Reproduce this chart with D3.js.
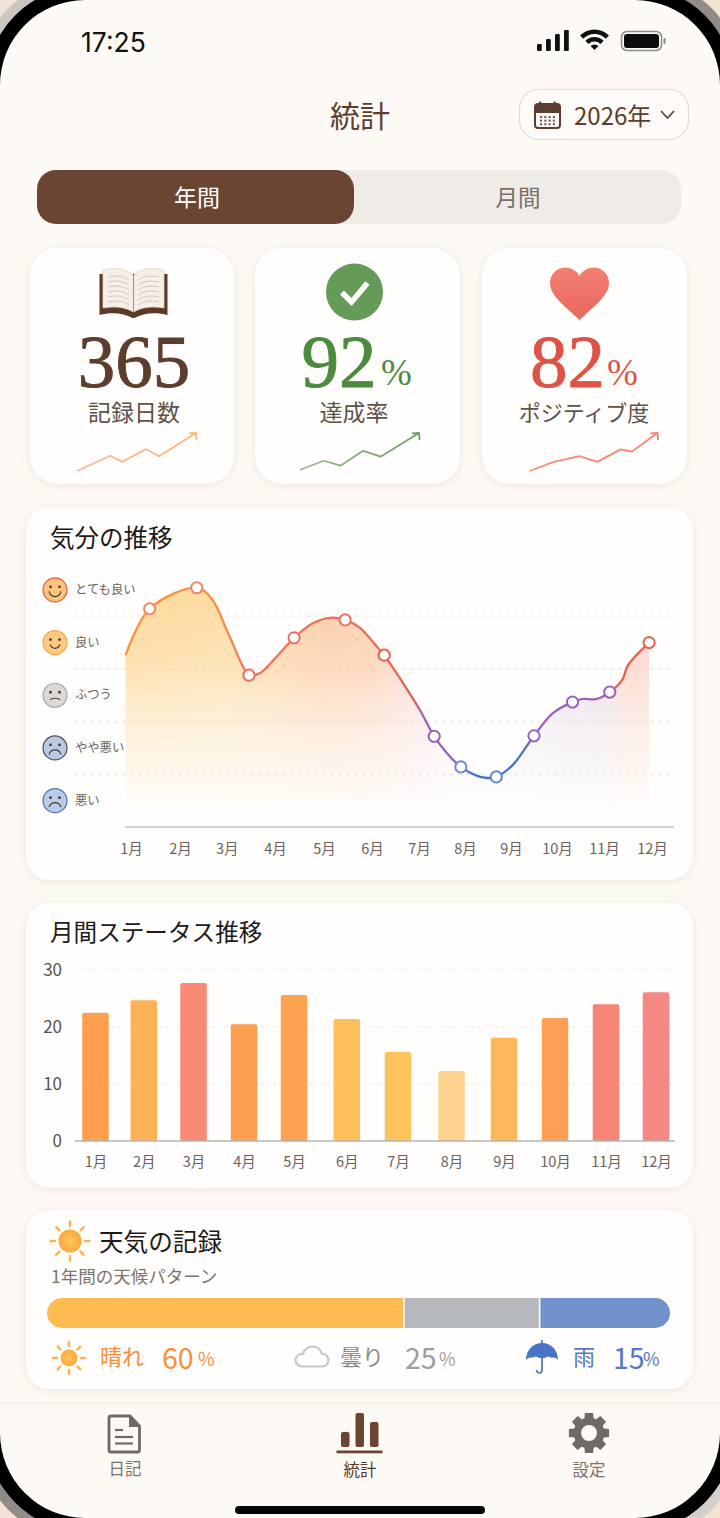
<!DOCTYPE html>
<html lang="ja">
<head>
<meta charset="utf-8">
<title>統計</title>
<script src="https://cdn.jsdelivr.net/npm/d3@7"></script>
<style>
  html, body { margin: 0; padding: 0; background: #f2e3d4; }
  svg { display: block; }
  text { font-family: "Noto Sans CJK JP", "Noto Sans", sans-serif; }
  .tick text { font-family: "Noto Sans CJK JP", "Noto Sans", sans-serif; }
</style>
</head>
<body>
<div id="chart"></div>
<script>
// 月
const months = [1, 2, 3, 4, 5, 6, 7, 8, 9, 10, 11, 12];

// サマリーカード
const statLabels = ["記録日数", "達成率", "ポジティブ度"];
const statValues = ["365", "92", "82"];
const statUnits = ["", "%", "%"];

// 小さい折れ線（カード内の幅・高さに対する%）
const sparkDaysX = [0, 28, 38, 58, 69, 100];
const sparkDaysY = [0, 40, 24, 58, 39, 100];
const sparkRateX = [0, 20, 34, 53, 68, 100];
const sparkRateY = [3, 27, 14, 53, 38, 100];
const sparkPosiX = [0, 19, 39, 53, 71, 80, 100];
const sparkPosiY = [0, 24, 39, 24, 57, 51, 100];

// 気分の推移
const moodLabels = ["とても良い", "良い", "ふつう", "やや悪い", "悪い"];
const moodLevels = [4.5, 3.5, 2.5, 1.5, 0.5];
const moodGrid = [1, 2, 3, 4];
const moodMonth = [0.89, 1.38, 2.36, 2.68, 3.0, 3.34, 3.46, 3.69, 4.03, 4.39, 4.78, 5.13, 5.44, 5.75, 6.02, 6.26, 6.66, 7.02, 7.33, 7.61, 7.91, 8.26, 8.5, 8.68, 9.04, 9.5, 9.91, 10.33, 10.55, 10.85, 11.12, 11.38, 11.5, 11.94];
const moodValue = [3.26, 4.14, 4.54, 4.33, 3.74, 3.04, 2.88, 2.92, 3.23, 3.59, 3.87, 3.97, 3.93, 3.78, 3.51, 3.26, 2.73, 2.22, 1.72, 1.4, 1.14, 0.97, 0.93, 0.95, 1.18, 1.73, 2.16, 2.37, 2.43, 2.43, 2.56, 2.79, 3.07, 3.5];
const moodMarked = [1.38, 2.36, 3.46, 4.39, 5.44, 6.26, 7.33, 7.91, 8.68, 9.5, 10.33, 11.12, 11.94];

// 月間ステータス推移
const statusTicks = [0, 10, 20, 30];
const statusValues = [22.5, 24.7, 27.7, 20.5, 25.6, 21.4, 15.6, 12.3, 18.1, 21.6, 24.0, 26.1];

// 天気の記録（バーの長さは絵から読んだ比率、ラベルは表示どおり）
const weatherNames = ["晴れ", "曇り", "雨"];
const weatherLabels = ["60", "25", "15"];
const weatherBar = [57.4, 21.8, 20.8];

// ---- ここから描画 ----
const W = 720, H = 1518;
const SERIF = '"Liberation Serif", "DejaVu Serif", serif';
const BROWN = "#5c3d2e";
const GREY_TEXT = "#6b625c";

const svg = d3.select("#chart").append("svg")
  .attr("width", W).attr("height", H).attr("viewBox", `0 0 ${W} ${H}`);
const defs = svg.append("defs");

// CJKはcentralだと少し下に出るので上げる
const txt = (g, x, y, s, size, fill, anchor = "start", family = null) => {
  const t = g.append("text")
    .attr("x", x).attr("y", family ? y : y - size * 0.07)
    .attr("dominant-baseline", "central")
    .attr("text-anchor", anchor)
    .attr("font-size", size)
    .attr("fill", fill)
    .text(s);
  if (family) t.style("font-family", family);
  return t;
};

const addGradient = (id, stops, attrs) => {
  const g = defs.append("linearGradient").attr("id", id);
  Object.entries(attrs).forEach(([k, v]) => g.attr(k, v));
  stops.forEach(([o, c, a]) => {
    const s = g.append("stop").attr("offset", o).attr("stop-color", c);
    if (a !== undefined) s.attr("stop-opacity", a);
  });
};

// 影
const shadow = defs.append("filter").attr("id", "cardShadow")
  .attr("x", "-10%").attr("y", "-10%").attr("width", "120%").attr("height", "120%");
shadow.append("feDropShadow").attr("dx", 0).attr("dy", 1.5).attr("stdDeviation", 4)
  .attr("flood-color", "#9c7d63").attr("flood-opacity", 0.16);

// 端末の枠
addGradient("frameMetal", [[0, "#cfcac4"], [0.5, "#8f8a86"], [1, "#d8d4cf"]], { x1: 0, y1: 0, x2: 1, y2: 1 });
svg.append("rect").attr("x", -21).attr("y", -21).attr("width", W + 42).attr("height", H + 42).attr("rx", 100)
  .attr("fill", "url(#frameMetal)");
svg.append("rect").attr("x", -14).attr("y", -14).attr("width", W + 28).attr("height", H + 28).attr("rx", 100)
  .attr("fill", "#000");
svg.append("rect").attr("x", 0).attr("y", 0).attr("width", W).attr("height", H).attr("rx", 85)
  .attr("fill", "#fdf9f5");

// ステータスバー
const status = svg.append("g");
txt(status, 81, 41.5, "17:25", 26.5, "#111", "start", "Inter, Roboto, sans-serif").attr("font-weight", 400);
[[537, 44, 7], [546, 39, 12], [555, 34, 17], [564, 30, 21]].forEach(([x, y, h]) => {
  status.append("rect").attr("x", x).attr("y", y).attr("width", 4.8).attr("height", h).attr("rx", 1.2).attr("fill", "#111");
});
const wifiArc = d3.arc().startAngle(-Math.PI / 4).endAngle(Math.PI / 4);
[[16, 20.5], [8.5, 13], [0, 5.5]].forEach(([r0, r1]) => {
  status.append("path").attr("transform", "translate(594.5,50)")
    .attr("d", wifiArc({ innerRadius: r0, outerRadius: r1 })).attr("fill", "#111");
});
status.append("rect").attr("x", 621.5).attr("y", 31.5).attr("width", 40).attr("height", 19).attr("rx", 5.5)
  .attr("fill", "none").attr("stroke", "#8c8c8c").attr("stroke-width", 1.5);
status.append("rect").attr("x", 624).attr("y", 34).attr("width", 35).attr("height", 14).attr("rx", 3).attr("fill", "#0c0c0c");
status.append("rect").attr("x", 663.5).attr("y", 38).attr("width", 2).attr("height", 6).attr("rx", 1).attr("fill", "#8c8c8c");

// ヘッダー
txt(svg, 360, 116, "統計", 30, BROWN, "middle");
svg.append("rect").attr("x", 519.5).attr("y", 89.5).attr("width", 169).attr("height", 50).attr("rx", 19)
  .attr("fill", "#fdfaf7").attr("stroke", "#e2dcd6").attr("stroke-width", 1.2);
const cal = svg.append("g").attr("fill", BROWN);
cal.append("rect").attr("x", 535).attr("y", 104).attr("width", 25).attr("height", 24).attr("rx", 3)
  .attr("fill", "#fdfaf7").attr("stroke", BROWN).attr("stroke-width", 2);
cal.append("path").attr("d", "M535 107a3 3 0 0 1 3-3h19a3 3 0 0 1 3 3v6h-25z");
cal.append("rect").attr("x", 539).attr("y", 101.5).attr("width", 2.4).attr("height", 5).attr("rx", 1);
cal.append("rect").attr("x", 553.5).attr("y", 101.5).attr("width", 2.4).attr("height", 5).attr("rx", 1);
d3.range(3).forEach(r => d3.range(4).forEach(c => {
  cal.append("rect").attr("x", 540 + c * 4.3).attr("y", 116 + r * 3.6).attr("width", 2).attr("height", 2).attr("fill", "#6e5547");
}));
txt(svg, 574, 116, "2026年", 24, BROWN);
svg.append("path").attr("d", "M661 111l6.5 7 6.5-7").attr("fill", "none").attr("stroke", BROWN).attr("stroke-width", 1.6);

// タブ
svg.append("rect").attr("x", 37).attr("y", 170).attr("width", 644).attr("height", 54).attr("rx", 19).attr("fill", "#efece8");
svg.append("rect").attr("x", 37).attr("y", 170).attr("width", 317).attr("height", 54).attr("rx", 19).attr("fill", "#6b4531");
txt(svg, 197, 197.5, "年間", 23, "#fff", "middle");
txt(svg, 518, 197.5, "月間", 22.5, "#77706a", "middle");

// カード共通
const card = (x, y, w, h, r) => svg.append("rect")
  .attr("x", x).attr("y", y).attr("width", w).attr("height", h).attr("rx", r)
  .attr("fill", "#fffefd").attr("filter", "url(#cardShadow)");

// ---- サマリーカード ----
const statCardX = [30, 255, 482];
const statCardW = [204, 205, 205];
const statColors = [BROWN, "#4c8a40", "#de5345"];
const statCenter = [134, 354, 584];
const statLabelSize = [23, 23, 22];
statCardX.forEach((x, i) => card(x, 248, statCardW[i], 236, 28));

// 本
const book = svg.append("g");
book.append("path")
  .attr("d", "M99.500 274v41c12-3 24-2 33 3h2c9-5 21-6 33-3v-41z")
  .attr("fill", "#5d3a27");
book.append("path")
  .attr("d", "M103 270c11-3 23-2 30 5v37c-7-5-19-6-30-4z")
  .attr("fill", "#f5efe6").attr("stroke", "#dcd5cb").attr("stroke-width", 0.8);
book.append("path")
  .attr("d", "M164 270c-11-3-23-2-30 5v37c7-5 19-6 30-4z")
  .attr("fill", "#f5efe6").attr("stroke", "#dcd5cb").attr("stroke-width", 0.8);
d3.range(6).forEach(k => {
  const yy = 277 + k * 5;
  book.append("path").attr("d", `M108 ${yy}c8-2 15-1 21 3`).attr("fill", "none").attr("stroke", "#c9c4bd").attr("stroke-width", 0.9);
  book.append("path").attr("d", `M159 ${yy}c-8-2-15-1-21 3`).attr("fill", "none").attr("stroke", "#c9c4bd").attr("stroke-width", 0.9);
});

// チェック
svg.append("circle").attr("cx", 354.5).attr("cy", 292).attr("r", 28.5).attr("fill", "#659a59");
svg.append("path").attr("d", "M342 292.500l9.500 9.500 16-19").attr("fill", "none").attr("stroke", "#fff")
  .attr("stroke-width", 5.5).attr("stroke-linejoin", "miter");

// ハート
addGradient("heartFill", [[0, "#f37f73"], [1, "#e9675c"]], { x1: 0, y1: 0, x2: 0, y2: 1 });
svg.append("path")
  .attr("d", "M579.500 320C566 307 550 296 550 283c0-9 7-15.500 15-15.500 6 0 11.500 3 14.500 8.500 3-5.500 8.500-8.500 14.500-8.500 8 0 15 6.500 15 15.500 0 13-16 24-29.500 37z")
  .attr("fill", "url(#heartFill)");

// 数字
const statNumX = [134, 339, 567.5];
statValues.forEach((v, i) => {
  txt(svg, statNumX[i], 361, v, 75, statColors[i], "middle", SERIF)
    .attr("stroke", statColors[i]).attr("stroke-width", 0.9);
  txt(svg, statCenter[i], 413, statLabels[i], statLabelSize[i], "#5e5249", "middle");
});
txt(svg, 381, 372, statUnits[1], 37, statColors[1], "start", SERIF);
txt(svg, 607, 372, statUnits[2], 37, statColors[2], "start", SERIF);

// 小さい折れ線
const spark = (id, xs, ys, x0, x1, stops) => {
  const sx = d3.scaleLinear().domain([0, 100]).range([x0, x1]);
  const sy = d3.scaleLinear().domain([0, 100]).range([471, 433]);
  addGradient(id, stops, { gradientUnits: "userSpaceOnUse", x1: x0, y1: 0, x2: x1, y2: 0 });
  const line = d3.line().x(i => sx(xs[i])).y(i => sy(ys[i]));
  svg.append("path").attr("d", line(d3.range(xs.length)))
    .attr("fill", "none").attr("stroke", `url(#${id})`).attr("stroke-width", 1.8).attr("stroke-linejoin", "round");
  const ex = sx(100), ey = sy(100);
  svg.append("path").attr("d", `M${ex - 7} ${ey + 0.5}L${ex} ${ey}L${ex + 0.5} ${ey + 7}`)
    .attr("fill", "none").attr("stroke", stops[stops.length - 1][1]).attr("stroke-width", 1.8);
};
spark("sparkDays", sparkDaysX, sparkDaysY, 77, 196, [[0, "#f7b89c"], [1, "#fbb67c"]]);
spark("sparkRate", sparkRateX, sparkRateY, 300, 419, [[0, "#b5b1aa"], [0.3, "#8fae88"], [1, "#6f9e68"]]);
spark("sparkPosi", sparkPosiX, sparkPosiY, 529.5, 657.5, [[0, "#f5907f"], [1, "#f2806f"]]);

// ---- 気分の推移 ----
card(26, 507, 667, 373, 24);
txt(svg, 50, 538, "気分の推移", 24.5, "#1e1a18");

const moodX = d3.scaleLinear().domain(months)
  .range([131, 180, 226.7, 275, 324, 372, 419, 465, 511, 557, 604, 652]);
const moodY = d3.scaleLinear().domain([0, 5]).range([827, 563.5]);

svg.append("g").selectAll("line").data(moodGrid).join("line")
  .attr("x1", 74).attr("x2", 675)
  .attr("y1", d => moodY(d)).attr("y2", d => moodY(d))
  .attr("stroke", "#eee7e1").attr("stroke-width", 1.2).attr("stroke-dasharray", "4 4");

// 塗りとライン
const moodIdx = d3.range(moodMonth.length);
const moodCurve = d3.curveCatmullRom.alpha(0.5);
const moodArea = d3.area().x(i => moodX(moodMonth[i])).y0(moodY(0)).y1(i => moodY(moodValue[i])).curve(moodCurve);
const moodLine = d3.line().x(i => moodX(moodMonth[i])).y(i => moodY(moodValue[i])).curve(moodCurve);

const lineLeft = moodX(moodMonth[0]);
const lineRight = moodX(moodMonth[moodMonth.length - 1]);
const xStops = (list) => list.map(([m, c]) => [(moodX(m) - lineLeft) / (lineRight - lineLeft), c]);

addGradient("moodFill", xStops([
  [0.89, "#fdd99c"], [3, "#fddca6"], [5, "#fcceaa"], [6, "#fccfb0"], [7, "#f9d8dc"],
  [8, "#eeeaf4"], [9, "#eeedf7"], [10, "#e8dde6"], [11, "#e4d8e2"], [11.5, "#fad2c4"], [11.94, "#fcd4c8"]
]), { gradientUnits: "userSpaceOnUse", x1: lineLeft, y1: 0, x2: lineRight, y2: 0 });
addGradient("moodFade", [[0, "#fff", 1], [0.3, "#fff", 0.78], [0.6, "#fff", 0.36], [1, "#fff", 0]],
  { gradientUnits: "userSpaceOnUse", x1: 0, y1: 600, x2: 0, y2: 815 });
defs.append("mask").attr("id", "moodMask").attr("maskUnits", "userSpaceOnUse")
  .attr("x", 100).attr("y", 560).attr("width", 600).attr("height", 280)
  .append("rect").attr("x", 100).attr("y", 560).attr("width", 600).attr("height", 280).attr("fill", "url(#moodFade)");
svg.append("path").attr("d", moodArea(moodIdx)).attr("fill", "url(#moodFill)").attr("mask", "url(#moodMask)");

addGradient("moodStroke", xStops([
  [0.89, "#f9953c"], [2.9, "#f98f45"], [3.5, "#f0745f"], [6, "#ee6b57"], [6.9, "#e9604f"], [7.08, "#9c64b5"],
  [7.75, "#8568bd"], [8.25, "#4273c9"], [9.25, "#4a76c8"], [9.55, "#9a62b8"], [11.12, "#9a62b8"], [11.2, "#e9604f"], [11.94, "#e9604f"]
]), { gradientUnits: "userSpaceOnUse", x1: lineLeft, y1: 0, x2: lineRight, y2: 0 });
svg.append("path").attr("d", moodLine(moodIdx))
  .attr("fill", "none").attr("stroke", "url(#moodStroke)").attr("stroke-width", 2.3);

const markerColor = ["#f2846a", "#f2846a", "#ee7060", "#ee7060", "#ee7060", "#e9604f", "#9a62b8", "#6c8cca", "#5f86cc", "#9a62b8", "#9a62b8", "#9a62b8", "#e9604f"];
svg.append("g").selectAll("circle").data(moodMarked).join("circle")
  .attr("cx", d => moodX(d))
  .attr("cy", d => moodY(moodValue[moodMonth.indexOf(d)]))
  .attr("r", 5.6)
  .attr("fill", "#fff")
  .attr("stroke", (d, i) => markerColor[i])
  .attr("stroke-width", 2);

// 顔
const faceFill = ["#f9c47c", "#fdc983", "#dbd8d5", "#b9cbe4", "#b9cce8"];
const faceStroke = ["#e0584b", "#f8a848", "#aaa6a3", "#4d4e59", "#4f6fae"];
const faceMouth = ["M-6 1.500c2 7 10 7 12 0", "M-5 2c2 5 8 5 10 0", "M-5 4.500c2-2 8-2 10 0", "M-6 6.500c2-6 10-6 12 0", "M-6 6.500c2-6 10-6 12 0"];
moodLabels.forEach((label, i) => {
  const y = moodY(moodLevels[i]);
  const f = svg.append("g").attr("transform", `translate(55,${y})`);
  f.append("circle").attr("r", 12).attr("fill", faceFill[i]).attr("stroke", faceStroke[i]).attr("stroke-width", 1.2);
  f.append("circle").attr("cx", -4.5).attr("cy", -3).attr("r", 1.4).attr("fill", "#4a3a30");
  f.append("circle").attr("cx", 4.5).attr("cy", -3).attr("r", 1.4).attr("fill", "#4a3a30");
  f.append("path").attr("d", faceMouth[i]).attr("fill", "none").attr("stroke", "#4a3a30").attr("stroke-width", 1.2);
  txt(svg, 75, y, label, 12.3, GREY_TEXT);
});

svg.append("line").attr("x1", 125).attr("x2", 674).attr("y1", moodY(0)).attr("y2", moodY(0))
  .attr("stroke", "#c9bfba").attr("stroke-width", 1.3);

const moodAxis = svg.append("g").attr("transform", `translate(0,${moodY(0)})`)
  .call(d3.axisBottom(moodX).tickValues(months).tickFormat(m => `${m}月`).tickSize(0).tickPadding(17));
moodAxis.select(".domain").remove();
moodAxis.selectAll("text").attr("font-size", 14.5).attr("fill", GREY_TEXT);

// ---- 月間ステータス推移 ----
card(26, 903, 667, 285, 24);
txt(svg, 50, 933, "月間ステータス推移", 23.6, "#1e1a18");

const barX = d3.scaleLinear().domain(months)
  .range([95.5, 143.8, 193.5, 244, 294, 346.8, 398, 451.5, 504, 555, 606, 656]);
const barY = d3.scaleLinear().domain([0, 30]).range([1141, 970]);
const barW = 26.5;
const barColor = ["#fd9f4f", "#fdb255", "#f98a76", "#fd9f50", "#fea352", "#fdc05a", "#fdc45c", "#fdd28f", "#fdb85c", "#fd9f55", "#f78575", "#f58883"];

svg.append("g").selectAll("line").data(statusTicks.slice(1)).join("line")
  .attr("x1", 75).attr("x2", 675)
  .attr("y1", d => barY(d)).attr("y2", d => barY(d))
  .attr("stroke", "#eee7e1").attr("stroke-width", 1.2).attr("stroke-dasharray", "3 3");

svg.append("g").selectAll("path").data(statusValues).join("path")
  .attr("fill", (d, i) => barColor[i])
  .attr("d", (d, i) => {
    const x = barX(months[i]) - barW / 2, y = barY(d), b = barY(0);
    return `M${x} ${b}V${y + 2}q0-2 2-2H${x + barW - 2}q2 0 2 2V${b}z`;
  });

svg.append("line").attr("x1", 75).attr("x2", 675).attr("y1", barY(0)).attr("y2", barY(0))
  .attr("stroke", "#b9b3af").attr("stroke-width", 1.3);

const barAxisX = svg.append("g").attr("transform", `translate(0,${barY(0)})`)
  .call(d3.axisBottom(barX).tickValues(months).tickFormat(m => `${m}月`).tickSize(0).tickPadding(16));
barAxisX.select(".domain").remove();
barAxisX.selectAll("text").attr("font-size", 14.5).attr("fill", GREY_TEXT);

const barAxisY = svg.append("g").attr("transform", "translate(62,0)")
  .call(d3.axisLeft(barY).tickValues(statusTicks).tickSize(0).tickPadding(0));
barAxisY.select(".domain").remove();
barAxisY.selectAll("text").attr("font-size", 17).attr("fill", "#5a524c");

// ---- 天気の記録 ----
card(26, 1210, 667, 179, 24);

const drawSun = (cx, cy, r, r0, r1) => {
  const g = svg.append("g").attr("transform", `translate(${cx},${cy})`);
  d3.range(8).forEach(k => {
    const a = k * Math.PI / 4;
    g.append("line")
      .attr("x1", Math.sin(a) * r0).attr("y1", -Math.cos(a) * r0)
      .attr("x2", Math.sin(a) * r1).attr("y2", -Math.cos(a) * r1)
      .attr("stroke", "#fdb44e").attr("stroke-width", 2.4).attr("stroke-linecap", "round");
  });
  g.append("circle").attr("r", r).attr("fill", "url(#sunFill)");
};
const sunGrad = defs.append("radialGradient").attr("id", "sunFill");
sunGrad.append("stop").attr("offset", 0).attr("stop-color", "#fdc65c");
sunGrad.append("stop").attr("offset", 1).attr("stop-color", "#fda93e");

drawSun(70, 1241, 11.5, 15, 19.5);
txt(svg, 99, 1242, "天気の記録", 24.6, "#1e1a18");
txt(svg, 51, 1277, "1年間の天候パターン", 17.5, "#7d746e");

const weatherX = d3.scaleLinear().domain([0, 100]).range([47, 670]);
const weatherColor = ["#fdbb52", "#b5b8bc", "#7192cb"];
defs.append("clipPath").attr("id", "weatherClip").append("rect")
  .attr("x", 47).attr("y", 1298).attr("width", 623).attr("height", 30).attr("rx", 15);
const weatherStart = d3.cumsum([0].concat(weatherBar));
svg.append("g").attr("clip-path", "url(#weatherClip)")
  .selectAll("rect").data(weatherBar).join("rect")
  .attr("x", (d, i) => weatherX(weatherStart[i]))
  .attr("y", 1298)
  .attr("width", (d, i) => weatherX(weatherStart[i] + d) - weatherX(weatherStart[i]) - (i < 2 ? 1.6 : 0))
  .attr("height", 30)
  .attr("fill", (d, i) => weatherColor[i]);

// 凡例
drawSun(69, 1358, 8.5, 12, 16);
const legendName = [[100, "#f98f3a"], [340, "#8d8b89"], [573, "#5578c2"]];
const legendNum = [[162, 198, "#f98f3a"], [405, 439, "#a09d9a"], [613, 643, "#5578c2"]];
weatherNames.forEach((name, i) => {
  txt(svg, legendName[i][0], 1357, name, 22, legendName[i][1]);
  txt(svg, legendNum[i][0], 1358, weatherLabels[i], 28.5, legendNum[i][2]);
  txt(svg, legendNum[i][1], 1359, "%", 18, legendNum[i][2]);
});
svg.append("path")
  .attr("d", "M303 1366.500h19c4 0 6.500-3 6.500-6.500s-3-6.500-7-6.500c-1-4.500-5-7-9-7-5 0-8.500 3.500-9.500 7.500-4-.5-7.500 2.500-7.500 6s3 6.500 7.500 6.500z")
  .attr("fill", "none").attr("stroke", "#c6c6c6").attr("stroke-width", 2.2);
// 傘
const umbrella = svg.append("g");
umbrella.append("path")
  .attr("d", "M542 1343c-9 0-16 7-16 17 2-2 4.500-3 6-2 2-1.500 5.500-2 7 0h6c1.500-2 5-1.500 7 0 1.500-1 4-.5 6 2 0-10-7-17-16-17z")
  .attr("fill", "#4a74c5");
umbrella.append("path").attr("d", "M542 1340v30c0 4-5 4-5.500 0")
  .attr("fill", "none").attr("stroke", "#4a74c5").attr("stroke-width", 1.7);

// ---- 下のナビ ----
svg.append("line").attr("x1", 0).attr("x2", W).attr("y1", 1403).attr("y2", 1403).attr("stroke", "#eee8e3").attr("stroke-width", 1.2);

svg.append("path")
  .attr("d", "M111 1416h19l9.500 10v24a2 2 0 0 1-2 2h-26.500a2 2 0 0 1-2-2v-32a2 2 0 0 1 2-2z")
  .attr("fill", "#fdf9f5").attr("stroke", "#6f6a66").attr("stroke-width", 2.8);
svg.append("path").attr("d", "M129 1416l10.500 11h-10.500z").attr("fill", "#6f6a66");
[[115, 123, 1430], [115, 133, 1437], [115, 133, 1443.5]].forEach(([a, b, y]) => {
  svg.append("line").attr("x1", a).attr("x2", b).attr("y1", y).attr("y2", y).attr("stroke", "#6f6a66").attr("stroke-width", 2.2);
});
txt(svg, 125, 1469, "日記", 16.5, "#7c746e", "middle");

[[341, 1432], [355.5, 1413], [370, 1422]].forEach(([x, y]) => {
  svg.append("rect").attr("x", x).attr("y", y).attr("width", 8.5).attr("height", 1447 - y).attr("rx", 2).attr("fill", "#6b4531");
});
svg.append("rect").attr("x", 336.5).attr("y", 1450.5).attr("width", 46).attr("height", 2.8).attr("fill", "#6b4531");
txt(svg, 360, 1470, "統計", 16.5, "#5a3b2b", "middle");

// 歯車
const gearPts = d3.range(8).flatMap(k => {
  const a = k * Math.PI / 4, w = 0.2, w2 = 0.3;
  return [[a - w2, 15.5], [a - w, 20.5], [a + w, 20.5], [a + w2, 15.5]];
});
const gearOuter = d3.lineRadial().angle(d => d[0]).radius(d => d[1]).curve(d3.curveLinearClosed)(gearPts);
svg.append("path").attr("transform", "translate(589,1433)")
  .attr("d", `${gearOuter}M8 0A8 8 0 1 0 -8 0A8 8 0 1 0 8 0Z`)
  .attr("fill", "#6f6a66").attr("fill-rule", "evenodd");
txt(svg, 589, 1470, "設定", 16.5, "#7c746e", "middle");

// ホームバー
svg.append("rect").attr("x", 235).attr("y", 1506).attr("width", 250).attr("height", 8).attr("rx", 4).attr("fill", "#050505");
</script>
</body>
</html>
